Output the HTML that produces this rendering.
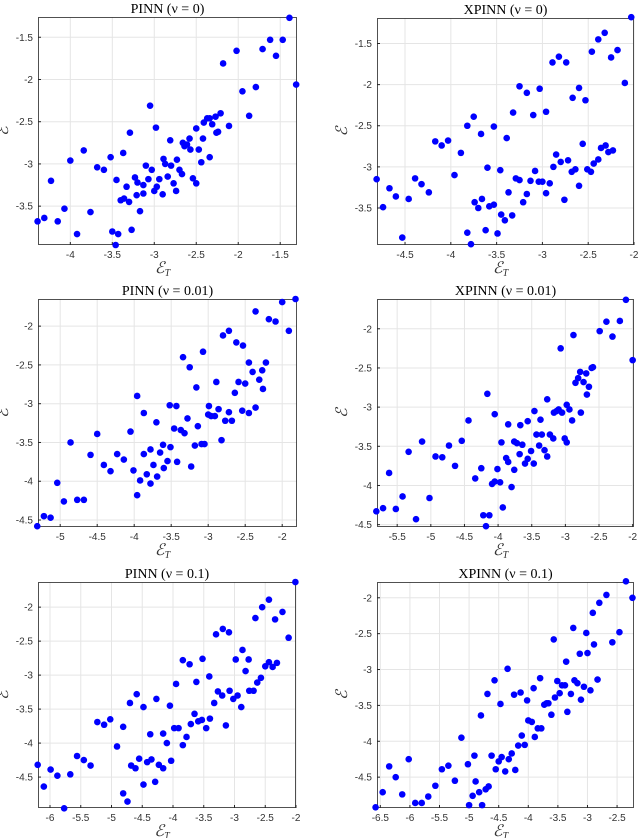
<!DOCTYPE html>
<html><head><meta charset="utf-8"><style>
html,body{margin:0;padding:0;background:#fff;}
svg{display:block;}
.tk{font-family:"Liberation Sans",sans-serif;font-size:10px;fill:#333;}
.tt{font-family:"Liberation Serif",serif;font-size:14px;fill:#000;}
.lb{font-family:"Liberation Serif",serif;font-size:16px;font-style:italic;fill:#333;}
</style></head><body>
<svg id="fig" width="640" height="838" viewBox="0 0 640 838"></svg>
<script>
// ---- data ----
const pinn0X=[-4.39,-4.31,-4.23,-4.15,-4.07,-4.0,-3.92,-3.84,-3.76,-3.68,-3.60,-3.52,-3.50,-3.46,-3.45,-3.43,-3.40,-3.37,-3.36,-3.33,-3.30,-3.29,-3.27,-3.23,-3.21,-3.20,-3.17,-3.13,-3.13,-3.10,-3.07,-3.05,-3.03,-3.0,-2.98,-2.97,-2.94,-2.90,-2.89,-2.87,-2.84,-2.81,-2.80,-2.77,-2.74,-2.73,-2.70,-2.67,-2.66,-2.64,-2.61,-2.58,-2.57,-2.54,-2.50,-2.50,-2.47,-2.44,-2.42,-2.41,-2.37,-2.34,-2.34,-2.31,-2.27,-2.26,-2.24,-2.21,-2.18,-2.11,-2.02,-1.95,-1.87,-1.79,-1.71,-1.62,-1.55,-1.47,-1.39,-1.31];
const pinn0Y=[-3.68,-3.64,-3.20,-3.68,-3.53,-2.96,-3.83,-2.84,-3.57,-3.04,-3.07,-2.92,-3.80,-3.96,-3.19,-3.83,-3.43,-2.87,-3.41,-3.27,-3.45,-2.63,-3.78,-3.16,-3.37,-3.22,-3.56,-3.35,-3.25,-3.02,-3.18,-2.31,-3.07,-3.32,-2.57,-3.27,-3.18,-3.36,-2.94,-3.0,-3.15,-2.72,-3.02,-3.23,-3.32,-2.95,-3.07,-3.12,-2.75,-2.79,-2.77,-2.70,-2.83,-3.17,-3.23,-2.58,-2.83,-2.98,-2.70,-2.51,-2.46,-2.46,-2.92,-2.53,-2.44,-2.63,-2.62,-2.40,-1.81,-2.55,-1.66,-2.14,-2.43,-2.09,-1.64,-1.53,-1.72,-1.53,-1.27,-2.06];
const xpinn0X=[-4.81,-4.74,-4.67,-4.60,-4.53,-4.46,-4.39,-4.32,-4.24,-4.17,-4.10,-4.03,-3.96,-3.89,-3.82,-3.82,-3.78,-3.75,-3.74,-3.70,-3.67,-3.66,-3.62,-3.60,-3.58,-3.53,-3.53,-3.49,-3.46,-3.45,-3.41,-3.39,-3.37,-3.33,-3.32,-3.29,-3.25,-3.25,-3.21,-3.17,-3.17,-3.13,-3.10,-3.08,-3.04,-3.03,-3.0,-2.96,-2.96,-2.92,-2.89,-2.88,-2.85,-2.82,-2.80,-2.76,-2.74,-2.72,-2.68,-2.67,-2.64,-2.60,-2.60,-2.56,-2.53,-2.51,-2.47,-2.46,-2.44,-2.39,-2.39,-2.36,-2.32,-2.31,-2.28,-2.25,-2.23,-2.18,-2.10,-2.03];
const xpinn0Y=[-3.15,-3.49,-3.26,-3.36,-3.86,-3.39,-3.14,-3.21,-3.31,-2.69,-2.74,-2.68,-3.10,-2.83,-2.50,-3.80,-3.94,-2.39,-3.43,-3.50,-2.60,-3.39,-3.77,-3.01,-3.48,-3.46,-2.51,-3.81,-3.04,-3.58,-3.65,-2.65,-3.31,-3.59,-2.34,-3.14,-3.16,-2.02,-3.43,-2.10,-3.33,-3.17,-2.37,-3.05,-3.18,-2.05,-3.18,-2.33,-3.32,-3.20,-1.73,-3.0,-2.85,-1.66,-2.94,-3.40,-1.73,-2.92,-3.06,-2.16,-3.03,-2.04,-3.23,-2.72,-2.19,-3.03,-3.06,-1.60,-2.96,-1.45,-2.91,-2.77,-1.37,-2.74,-2.82,-1.67,-2.80,-1.58,-1.98,-1.18];
const pinn1X=[-5.31,-5.22,-5.13,-5.04,-4.95,-4.86,-4.77,-4.68,-4.59,-4.50,-4.41,-4.32,-4.23,-4.14,-4.05,-4.01,-3.96,-3.96,-3.92,-3.87,-3.87,-3.83,-3.78,-3.78,-3.74,-3.70,-3.69,-3.65,-3.61,-3.60,-3.55,-3.52,-3.51,-3.46,-3.43,-3.42,-3.37,-3.34,-3.32,-3.28,-3.25,-3.23,-3.18,-3.16,-3.14,-3.09,-3.07,-3.05,-3.0,-2.99,-2.96,-2.91,-2.89,-2.86,-2.82,-2.80,-2.77,-2.72,-2.72,-2.68,-2.64,-2.62,-2.59,-2.54,-2.53,-2.50,-2.45,-2.45,-2.40,-2.36,-2.36,-2.31,-2.27,-2.26,-2.22,-2.18,-2.09,-2.0,-1.91,-1.82];
const pinn1Y=[-4.58,-4.45,-4.47,-4.02,-4.26,-3.50,-4.24,-4.24,-3.66,-3.39,-3.79,-3.87,-3.65,-3.72,-3.36,-3.86,-2.90,-4.18,-3.99,-3.12,-3.65,-3.91,-3.59,-4.03,-3.79,-3.24,-3.94,-3.63,-3.53,-3.83,-3.74,-3.02,-3.56,-3.32,-3.03,-3.75,-3.34,-2.40,-3.38,-3.19,-2.53,-3.81,-3.54,-2.79,-3.29,-3.52,-2.33,-3.52,-3.14,-3.03,-3.16,-3.16,-2.72,-3.07,-3.47,-2.12,-3.22,-3.11,-2.06,-3.22,-2.86,-2.21,-2.72,-3.09,-2.25,-2.74,-3.12,-2.47,-2.59,-3.05,-1.81,-2.69,-2.57,-2.81,-2.47,-1.91,-1.94,-1.69,-2.06,-1.65];
const xpinn1X=[-5.81,-5.71,-5.62,-5.52,-5.42,-5.33,-5.22,-5.13,-5.02,-4.93,-4.83,-4.73,-4.64,-4.54,-4.44,-4.34,-4.25,-4.22,-4.16,-4.13,-4.18,-4.09,-4.05,-4.05,-4.01,-3.97,-3.95,-3.93,-3.88,-3.85,-3.85,-3.80,-3.76,-3.76,-3.72,-3.68,-3.67,-3.64,-3.60,-3.56,-3.56,-3.51,-3.47,-3.46,-3.43,-3.39,-3.37,-3.35,-3.31,-3.27,-3.27,-3.23,-3.18,-3.17,-3.13,-3.10,-3.07,-3.05,-3.01,-2.98,-2.98,-2.94,-2.90,-2.88,-2.85,-2.81,-2.78,-2.77,-2.73,-2.69,-2.68,-2.65,-2.61,-2.59,-2.49,-2.39,-2.30,-2.19,-2.10,-2.0];
const xpinn1Y=[-4.33,-4.29,-3.84,-4.30,-4.14,-3.57,-4.43,-3.44,-4.16,-3.63,-3.64,-3.49,-3.75,-3.43,-3.17,-3.91,-3.78,-4.38,-2.83,-4.38,-4.52,-3.98,-3.95,-3.09,-3.79,-3.96,-3.45,-4.28,-3.65,-3.22,-3.70,-4.02,-3.80,-3.44,-3.46,-3.60,-3.23,-3.48,-3.72,-3.18,-3.66,-3.56,-3.72,-3.05,-3.35,-3.49,-3.16,-3.35,-3.55,-3.63,-2.90,-3.35,-3.40,-3.07,-3.05,-3.03,-2.25,-3.07,-3.40,-3.45,-2.97,-3.03,-3.17,-2.08,-2.69,-2.63,-2.55,-3.07,-2.68,-2.57,-2.84,-2.74,-2.50,-2.49,-2.03,-1.91,-2.10,-1.90,-1.63,-2.40];
const pinn2X=[-6.20,-6.10,-5.99,-5.88,-5.77,-5.67,-5.56,-5.45,-5.34,-5.23,-5.12,-5.02,-4.91,-4.81,-4.81,-4.74,-4.70,-4.68,-4.61,-4.59,-4.55,-4.48,-4.48,-4.42,-4.37,-4.35,-4.29,-4.27,-4.23,-4.16,-4.16,-4.10,-4.05,-4.03,-3.98,-3.95,-3.91,-3.84,-3.84,-3.78,-3.73,-3.71,-3.65,-3.62,-3.59,-3.53,-3.52,-3.46,-3.41,-3.40,-3.33,-3.30,-3.27,-3.20,-3.19,-3.14,-3.09,-3.08,-3.02,-2.98,-2.95,-2.89,-2.87,-2.82,-2.77,-2.76,-2.69,-2.66,-2.63,-2.57,-2.55,-2.50,-2.44,-2.44,-2.38,-2.34,-2.31,-2.22,-2.12,-2.01];
const pinn2Y=[-4.32,-4.64,-4.39,-4.48,-4.96,-4.46,-4.19,-4.25,-4.33,-3.69,-3.73,-3.65,-4.05,-3.76,-4.74,-4.86,-3.41,-4.33,-4.37,-3.28,-4.23,-3.47,-4.61,-4.28,-3.87,-4.24,-4.57,-3.35,-4.32,-3.86,-4.37,-4.0,-3.45,-4.26,-3.78,-3.13,-3.78,-4.03,-2.78,-3.91,-2.84,-3.72,-3.57,-3.10,-3.68,-3.66,-2.76,-3.78,-3.02,-3.64,-3.41,-2.40,-3.24,-3.30,-2.32,-3.74,-2.37,-3.23,-3.35,-2.77,-3.30,-3.47,-2.63,-2.94,-2.77,-3.23,-3.23,-2.16,-3.11,-3.04,-2.0,-2.87,-1.89,-2.81,-2.88,-2.18,-2.82,-2.07,-2.45,-1.63];
const xpinn2X=[-6.58,-6.46,-6.35,-6.24,-6.13,-6.02,-5.91,-5.80,-5.69,-5.57,-5.46,-5.35,-5.24,-5.13,-5.02,-5.0,-4.94,-4.91,-4.89,-4.83,-4.80,-4.78,-4.72,-4.69,-4.67,-4.62,-4.57,-4.55,-4.50,-4.47,-4.45,-4.39,-4.35,-4.33,-4.28,-4.24,-4.22,-4.17,-4.13,-4.11,-4.06,-4.02,-4.0,-3.94,-3.91,-3.89,-3.84,-3.80,-3.78,-3.73,-3.69,-3.66,-3.61,-3.57,-3.55,-3.51,-3.47,-3.43,-3.38,-3.36,-3.34,-3.28,-3.24,-3.22,-3.17,-3.13,-3.11,-3.06,-3.02,-3.0,-2.95,-2.91,-2.89,-2.83,-2.80,-2.68,-2.58,-2.46,-2.35,-2.24];
const xpinn2Y=[-4.92,-4.71,-4.35,-4.50,-4.74,-4.25,-4.86,-4.86,-4.77,-4.62,-4.39,-4.34,-4.55,-3.95,-4.32,-4.89,-4.76,-4.20,-4.56,-4.71,-3.64,-4.89,-4.67,-3.34,-4.63,-4.20,-3.15,-4.39,-4.28,-3.48,-4.22,-4.42,-2.99,-4.25,-4.17,-3.35,-4.40,-4.06,-3.32,-3.92,-4.05,-3.43,-3.71,-3.73,-3.26,-3.94,-3.82,-3.12,-3.82,-3.49,-3.47,-3.47,-3.63,-2.58,-3.39,-3.16,-3.33,-3.22,-3.22,-2.89,-3.59,-3.34,-2.42,-3.15,-3.19,-2.78,-3.42,-3.24,-2.49,-2.77,-3.29,-2.21,-2.65,-3.14,-2.07,-1.96,-2.62,-2.48,-1.77,-2.0];
const panelTitles=["PINN (ν = 0)","XPINN (ν = 0)","PINN (ν = 0.01)","XPINN (ν = 0.01)","PINN (ν = 0.1)","XPINN (ν = 0.1)"];
const xTicks0=[-4,-3.5,-3,-2.5,-2,-1.5]; const yTicks0=[-3.5,-3,-2.5,-2,-1.5];
const xTicks1=[-4.5,-4,-3.5,-3,-2.5,-2]; const yTicks1=[-3.5,-3,-2.5,-2,-1.5];
const xTicks2=[-5,-4.5,-4,-3.5,-3,-2.5,-2]; const yTicks2=[-4.5,-4,-3.5,-3,-2.5,-2];
const xTicks3=[-5.5,-5,-4.5,-4,-3.5,-3,-2.5,-2]; const yTicks3=[-4.5,-4,-3.5,-3,-2.5,-2];
const xTicks4=[-6,-5.5,-5,-4.5,-4,-3.5,-3,-2.5,-2]; const yTicks4=[-4.5,-4,-3.5,-3,-2.5,-2];
const xTicks5=[-6.5,-6,-5.5,-5,-4.5,-4,-3.5,-3,-2.5]; const yTicks5=[-4.5,-4,-3.5,-3,-2.5,-2];
const xDomains=[[-4.385,-1.30],[-4.806,-2],[-5.30,-1.80],[-5.80,-1.98],[-6.195,-2],[-6.556,-2.214]];
const yDomains=[[-3.96,-1.26],[-3.95,-1.19],[-4.59,-1.65],[-4.53,-1.62],[-4.955,-1.63],[-4.93,-1.78]];

// ---- layout ----
const boxes=[[38,17,297,245],[377,18,634,245],[38,299,297,527],[377,299,634,527],[38,582,296,808],[377,582,634,808]];
const seriesX=[pinn0X,xpinn0X,pinn1X,xpinn1X,pinn2X,xpinn2X];
const seriesY=[pinn0Y,xpinn0Y,pinn1Y,xpinn1Y,pinn2Y,xpinn2Y];
const xT=[xTicks0,xTicks1,xTicks2,xTicks3,xTicks4,xTicks5];
const yT=[yTicks0,yTicks1,yTicks2,yTicks3,yTicks4,yTicks5];
const NS="http://www.w3.org/2000/svg";
const svg=document.getElementById('fig');
function mk(tag,attrs,parent){const e=document.createElementNS(NS,tag);for(const k in attrs)e.setAttribute(k,attrs[k]);parent.appendChild(e);return e;}
function fmt(v){return String(v);}
for(let p=0;p<6;p++){
  const [x0,y0,x1,y1]=boxes[p];
  const xd=xDomains[p], yd=yDomains[p];
  const sx=v=>x0+(v-xd[0])/(xd[1]-xd[0])*(x1-x0);
  const sy=v=>y1-(v-yd[0])/(yd[1]-yd[0])*(y1-y0);
  const g=mk('g',{},svg);
  
  
  mk('rect',{x:x0,y:y0,width:x1-x0,height:y1-y0,fill:'#fff'},g);
  const grid=mk('g',{stroke:'#e5e5e5','stroke-width':1},g);
  
  
  xT[p].forEach(t=>{const x=sx(t);mk('line',{x1:x,y1:y0,x2:x,y2:y1},grid);
    const tl=mk('text',{x:x,y:y1+13,'text-anchor':'middle',class:'tk'},g);tl.textContent=fmt(t);
    
    
    mk('line',{x1:x,y1:y1,x2:x,y2:y1-3,stroke:'#262626'},g);});
  yT[p].forEach(t=>{const y=sy(t);mk('line',{x1:x0,y1:y,x2:x1,y2:y},grid);
    const tl=mk('text',{x:x0-5,y:y+3.5,'text-anchor':'end',class:'tk'},g);tl.textContent=fmt(t);
    
    
    mk('line',{x1:x0,y1:y,x2:x0+3,y2:y,stroke:'#262626'},g);});
  const frame=mk('rect',{x:x0+0.5,y:y0+0.5,width:x1-x0-1,height:y1-y0-1,fill:'none',stroke:'#262626','stroke-width':0.8},g);
  
  
  const pts=mk('g',{fill:'#0000ff'},g);
  
  
  const X=seriesX[p],Y=seriesY[p];
  for(let i=0;i<X.length;i++){
    const c=mk('circle',{cx:sx(X[i]),cy:sy(Y[i]),r:3.3},pts);
    
    
  }
  const cx=(x0+x1)/2;
  const tt=mk('text',{x:cx,y:y0-4,'text-anchor':'middle',class:'tt'},g);
  tt.textContent=panelTitles[p];
  
  
  const xl=mk('text',{x:cx-5,y:y1+28,'text-anchor':'middle',class:'lb'},g);
  xl.innerHTML='ℰ<tspan font-size="10" dy="3">T</tspan>';
  
  
  const lx=x0-30, ly=(y0+y1)/2;
  const yl=mk('text',{x:lx,y:ly,'text-anchor':'middle',class:'lb',transform:`rotate(-90 ${lx} ${ly})`},g);
  yl.textContent='ℰ';
  
  
}
</script>
</body></html>
